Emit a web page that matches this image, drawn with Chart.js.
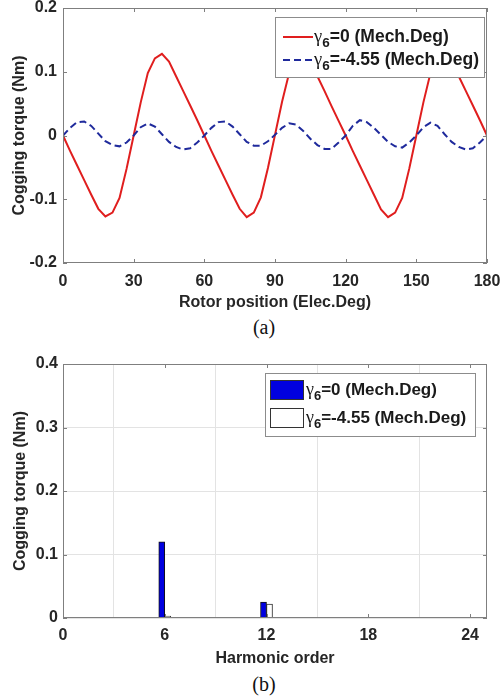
<!DOCTYPE html>
<html lang="en">
<head>
<meta charset="UTF-8" />
<title>Cogging torque</title>
<script src="https://cdn.jsdelivr.net/npm/chart.js@4.4.1/dist/chart.umd.min.js"></script>
<style>
  html, body { margin: 0; padding: 0; background: #fff; }
  #page { position: relative; width: 500px; height: 696px; overflow: hidden; }
  canvas { position: absolute; left: 0; }
  .cap { position: absolute; left: 214px; width: 100px; text-align: center; line-height: 20px;
         font: 20px 'Liberation Serif', 'Times New Roman', serif; color: #111; }
</style>
</head>
<body>
<div id="page">
  <canvas id="waveChart" width="500" height="312" style="top:0"></canvas>
  <div class="cap" style="top:316px">(a)</div>
  <canvas id="harmChart" width="500" height="330" style="top:340px"></canvas>
  <div class="cap" style="top:673px">(b)</div>
</div>
<script>
// (a) cogging torque vs rotor position
const rotorPos = [0, 3, 6, 9, 12, 15, 18, 21, 24, 27, 30, 33, 36, 39, 42, 45, 48, 51, 54, 57, 60,
  63, 66, 69, 72, 75, 78, 81, 84, 87, 90, 93, 96, 99, 102, 105, 108, 111, 114, 117, 120,
  123, 126, 129, 132, 135, 138, 141, 144, 147, 150, 153, 156, 159, 162, 165, 168, 171, 174, 177, 180];
const torqueBase = [0, -0.024, -0.047, -0.070, -0.093, -0.115, -0.127, -0.121, -0.098, -0.052, 0.000,
  0.052, 0.098, 0.121, 0.128, 0.116, 0.093, 0.070, 0.047, 0.024, 0.000,
  -0.024, -0.047, -0.070, -0.093, -0.115, -0.128, -0.121, -0.097, -0.051, 0.001,
  0.053, 0.098, 0.121, 0.127, 0.116, 0.093, 0.070, 0.046, 0.023, 0.000,
  -0.024, -0.047, -0.070, -0.093, -0.116, -0.128, -0.121, -0.098, -0.052, 0.000,
  0.052, 0.098, 0.121, 0.128, 0.116, 0.093, 0.070, 0.047, 0.024, 0.000];
const torqueSkew = [0.000, 0.012, 0.021, 0.022, 0.015, 0.003, -0.009, -0.015, -0.017, -0.011, 0.000,
  0.013, 0.019, 0.014, 0.002, -0.010, -0.018, -0.022, -0.020, -0.011, 0.000,
  0.012, 0.021, 0.022, 0.014, 0.002, -0.010, -0.016, -0.016, -0.009, 0.001,
  0.012, 0.019, 0.017, 0.007, -0.005, -0.015, -0.021, -0.021, -0.011, 0.000,
  0.015, 0.024, 0.021, 0.012, 0.001, -0.010, -0.017, -0.019, -0.011, 0.000,
  0.013, 0.020, 0.015, 0.002, -0.010, -0.018, -0.022, -0.020, -0.011, 0.000];
const posTicks = [0, 30, 60, 90, 120, 150, 180];
const torqueTicks = [-0.2, -0.1, 0, 0.1, 0.2];

// (b) harmonic spectrum
const harmOrder = [6, 12, 18, 24];
const harmBase = [0.120, 0.025, 0.001, 0.001];
const harmSkew = [0.003, 0.022, 0.0005, 0.001];
const orderTicks = [0, 6, 12, 18, 24];
const ampTicks = [0, 0.1, 0.2, 0.3, 0.4];

const seriesNames = ['γ₆=0 (Mech.Deg)', 'γ₆=-4.55 (Mech.Deg)'];

const FONT = "'Liberation Sans', Arial, Helvetica, sans-serif";
const INK = '#262626';
const AXIS = '#7f7f7f';

const setTicks = arr => s => { s.ticks = arr.map(v => ({ value: v })); };
const fixWidth = w => s => { s.width = w; s.paddingTop = 0; s.paddingBottom = 0; };
const fixHeight = h => s => { s.height = h; s.paddingLeft = 0; s.paddingRight = 0; };

// matlab style: box round the axes, ticks pointing inward, legend inside
const matlabAxes = {
  id: 'matlabAxes',
  afterDatasetsDraw(chart) {
    const { ctx, chartArea: a, scales: { x, y } } = chart;
    ctx.save();
    ctx.strokeStyle = AXIS;
    ctx.lineWidth = 1;
    ctx.beginPath();
    x.ticks.forEach(t => {
      const px = Math.round(x.getPixelForValue(t.value)) + 0.5;
      ctx.moveTo(px, a.bottom); ctx.lineTo(px, a.bottom - 4);
      ctx.moveTo(px, a.top); ctx.lineTo(px, a.top + 4);
    });
    y.ticks.forEach(t => {
      const py = Math.round(y.getPixelForValue(t.value)) + 0.5;
      ctx.moveTo(a.left, py); ctx.lineTo(a.left + 4, py);
      ctx.moveTo(a.right, py); ctx.lineTo(a.right - 4, py);
    });
    ctx.stroke();
    ctx.strokeRect(Math.round(a.left) + 0.5, Math.round(a.top) + 0.5,
      Math.round(a.width) - 1, Math.round(a.height) - 1);
    ctx.restore();
  },
  afterDraw(chart, args, opt) {
    const { ctx, chartArea: a } = chart;
    const x0 = Math.round(a.right - opt.right - opt.width);
    const y0 = Math.round(a.top + opt.top);
    ctx.save();
    ctx.fillStyle = '#fff';
    ctx.fillRect(x0, y0, opt.width, opt.height);
    ctx.strokeStyle = '#8c8c8c';
    ctx.lineWidth = 1;
    ctx.strokeRect(x0 + 0.5, y0 + 0.5, opt.width - 1, opt.height - 1);
    chart.data.datasets.forEach((ds, i) => {
      const cy = y0 + opt.rows[i];
      if (opt.kind === 'line') {
        ctx.strokeStyle = ds.borderColor;
        ctx.lineWidth = ds.borderWidth;
        ctx.setLineDash(ds.borderDash || []);
        ctx.beginPath();
        ctx.moveTo(x0 + opt.swatchX, cy);
        ctx.lineTo(x0 + opt.swatchX + opt.swatchW, cy);
        ctx.stroke();
        ctx.setLineDash([]);
      } else {
        ctx.fillStyle = ds.backgroundColor;
        ctx.fillRect(x0 + opt.swatchX, cy - 10, opt.swatchW, 20);
        ctx.strokeStyle = '#333';
        ctx.lineWidth = 1;
        ctx.strokeRect(x0 + opt.swatchX + 0.5, cy - 9.5, opt.swatchW - 1, 19);
      }
      // label: greek letter, subscript digit, rest in bold
      let tx = x0 + opt.textX;
      const lab = ds.label;
      ctx.fillStyle = '#1a1a1a';
      ctx.textAlign = 'left';
      ctx.textBaseline = 'middle';
      ctx.font = (opt.size + 1) + "px 'Liberation Serif', serif";
      ctx.fillText(lab[0], tx, cy);
      tx += ctx.measureText(lab[0]).width;
      const sub = lab[1].normalize('NFKC');
      ctx.font = 'bold ' + (opt.size - 4) + 'px ' + FONT;
      ctx.fillText(sub, tx, cy + 6);
      tx += ctx.measureText(sub).width;
      ctx.font = 'bold ' + opt.size + 'px ' + FONT;
      ctx.fillText(lab.slice(2), tx, cy);
    });
    ctx.restore();
  }
};

const tickFont = { family: FONT, size: 16, weight: 'bold' };

new Chart(document.getElementById('waveChart'), {
  type: 'line',
  data: {
    datasets: [
      {
        label: seriesNames[0],
        data: rotorPos.map((p, i) => ({ x: p, y: torqueBase[i] })),
        borderColor: '#e01e1e',
        borderWidth: 2,
        pointRadius: 0,
        tension: 0,
        order: 1
      },
      {
        label: seriesNames[1],
        data: rotorPos.map((p, i) => ({ x: p, y: torqueSkew[i] })),
        borderColor: '#1f2a9c',
        borderWidth: 2,
        borderDash: [7, 4],
        pointRadius: 0,
        tension: 0,
        order: 0
      }
    ]
  },
  options: {
    responsive: false,
    animation: false,
    events: [],
    layout: { padding: { left: 0, top: 8, right: 13, bottom: 0 } },
    plugins: {
      legend: { display: false },
      tooltip: { enabled: false },
      matlabAxes: { kind: 'line', width: 210, height: 61, right: 2, top: 9, size: 17.5,
        rows: [20, 43], swatchX: 8, swatchW: 30, textX: 39 }
    },
    scales: {
      x: {
        type: 'linear', min: 0, max: 180,
        afterBuildTicks: setTicks(posTicks),
        afterFit: fixHeight(49),
        grid: { display: false, drawTicks: false },
        border: { display: false },
        ticks: { font: tickFont, color: INK, padding: 9, maxRotation: 0, callback: v => String(v) },
        title: { display: true, text: 'Rotor position (Elec.Deg)', font: tickFont, color: INK, padding: { top: 0, bottom: 0 } }
      },
      y: {
        min: -0.2, max: 0.2,
        afterBuildTicks: setTicks(torqueTicks),
        afterFit: fixWidth(63),
        grid: { display: false, drawTicks: false },
        border: { display: false },
        ticks: { font: tickFont, color: INK, padding: 6, callback: v => String(v) },
        title: { display: true, text: 'Cogging torque (Nm)', font: tickFont, color: INK, padding: { top: 10, bottom: 0 } }
      }
    }
  },
  plugins: [matlabAxes]
});

new Chart(document.getElementById('harmChart'), {
  type: 'bar',
  data: {
    datasets: [
      {
        label: seriesNames[0],
        data: harmOrder.map((h, i) => ({ x: h, y: harmBase[i] })),
        backgroundColor: '#0000e0',
        borderColor: '#111',
        borderWidth: 1,
        barThickness: 6
      },
      {
        label: seriesNames[1],
        data: harmOrder.map((h, i) => ({ x: h, y: harmSkew[i] })),
        backgroundColor: '#ffffff',
        borderColor: '#333',
        borderWidth: 1,
        barThickness: 6
      }
    ]
  },
  options: {
    responsive: false,
    animation: false,
    events: [],
    layout: { padding: { left: 0, top: 24, right: 13, bottom: 0 } },
    plugins: {
      legend: { display: false },
      tooltip: { enabled: false },
      matlabAxes: { kind: 'bar', width: 211, height: 64, right: 11, top: 9, size: 17,
        rows: [17, 45], swatchX: 5, swatchW: 34, textX: 41 }
    },
    scales: {
      x: {
        type: 'linear', min: 0, max: 25, offset: false,
        afterBuildTicks: setTicks(orderTicks),
        afterFit: fixHeight(52),
        grid: { color: '#e3e3e3', drawTicks: false },
        border: { display: false },
        ticks: { font: tickFont, color: INK, padding: 8, maxRotation: 0, callback: v => String(v) },
        title: { display: true, text: 'Harmonic order', font: tickFont, color: INK, padding: { top: 0, bottom: 2 } }
      },
      y: {
        min: 0, max: 0.4,
        afterBuildTicks: setTicks(ampTicks),
        afterFit: fixWidth(63),
        grid: { color: '#e3e3e3', drawTicks: false },
        border: { display: false },
        ticks: { font: tickFont, color: INK, padding: 5, callback: v => String(v) },
        title: { display: true, text: 'Cogging torque (Nm)', font: tickFont, color: INK, padding: { top: 11, bottom: 0 } }
      }
    }
  },
  plugins: [matlabAxes]
});
</script>
</body>
</html>
